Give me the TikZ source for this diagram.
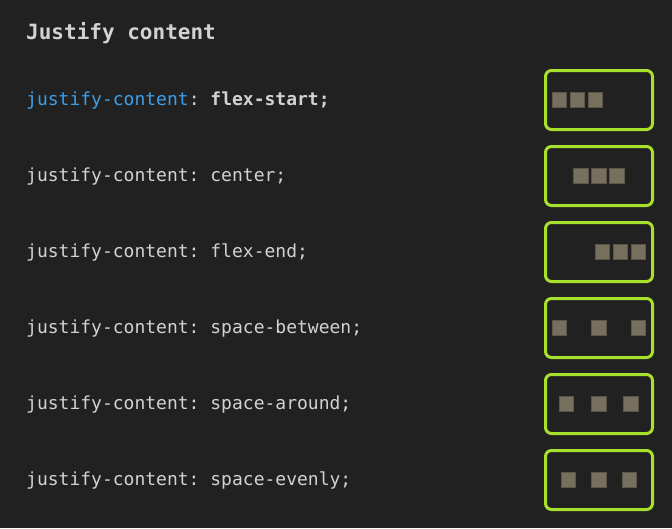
\documentclass[tikz,border=0pt]{standalone}
\usepackage{fontspec}
\setmonofont{DejaVu Sans Mono}
\definecolor{bgdark}{HTML}{212121}
\definecolor{codetext}{HTML}{D2D2D2}
\definecolor{propblue}{HTML}{3D9EEA}
\definecolor{limeedge}{HTML}{A9E02B}
\definecolor{itemfill}{HTML}{77705F}
\definecolor{itemedge}{HTML}{5C5749}

\tikzset{
  rule/.style={anchor=base west, inner sep=0pt, text=codetext,
    font=\ttfamily\fontsize{18}{18}\selectfont},
  demobox/.style={draw=limeedge, line width=3pt, rounded corners=6pt,
    minimum width=107pt, minimum height=59pt, inner sep=0pt},
  item/.style={fill=itemfill, draw=itemedge, line width=0.8pt,
    minimum size=14.5pt, inner sep=0pt},
}

\begin{document}
\begin{tikzpicture}[x=1pt, y=-1pt]
  \useasboundingbox[fill=bgdark] (0,0) rectangle (672,528);

  \node[rule, font=\ttfamily\bfseries\fontsize{21}{21}\selectfont] (title) at (26,39) {Justify content};

  % one row per value: label, box, three items
  \foreach \val/\row/\a/\b/\c in {flex-start/0/-39.5/-21.5/-3.5,
                                  center/1/-18/0/18,
                                  flex-end/2/3.5/21.5/39.5,
                                  space-between/3/-39.5/0/39.5,
                                  space-around/4/-32.5/0/32,
                                  space-evenly/5/-30.5/0/30.5} {
    \pgfmathsetmacro{\yc}{100+76*\row}
    \ifnum\row=0
      \node[rule] (rule-\val) at (26,\yc+5) {{\color{propblue}justify-content}: \textbf{flex-start;}};
    \else
      \node[rule] (rule-\val) at (26,\yc+5) {justify-content: \val;};
    \fi
    \node[demobox] (box-\val) at (599,\yc) {};
    \node[item] (item-\val-1) at ([xshift=\a pt]box-\val.center) {};
    \node[item] (item-\val-2) at ([xshift=\b pt]box-\val.center) {};
    \node[item] (item-\val-3) at ([xshift=\c pt]box-\val.center) {};
  }
\end{tikzpicture}
\end{document}
